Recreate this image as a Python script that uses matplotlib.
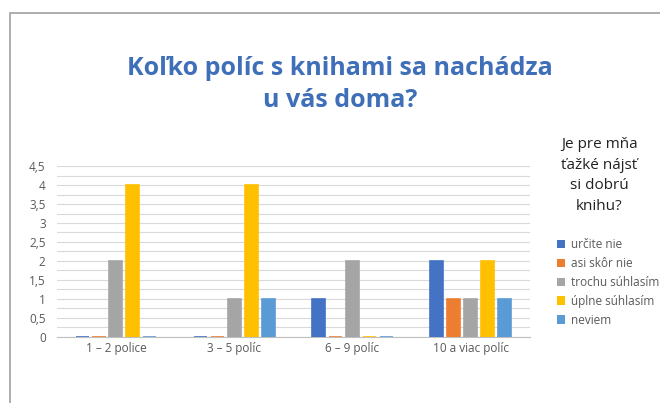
import numpy as np
import matplotlib.pyplot as plt
from matplotlib.patches import Rectangle, Patch
from matplotlib.ticker import MultipleLocator

categories = ['1 – 2 police', '3 – 5 políc', '6 – 9 políc', '10 a viac políc']
series_names = ['určite nie', 'asi skôr nie', 'trochu súhlasím', 'úplne súhlasím', 'neviem']
urcite_nie = [0, 0, 1, 2]
asi_skor_nie = [0, 0, 0, 1]
trochu_suhlasim = [2, 1, 2, 1]
uplne_suhlasim = [4, 4, 0, 2]
neviem = [0, 1, 0, 1]
values = [urcite_nie, asi_skor_nie, trochu_suhlasim, uplne_suhlasim, neviem]
colors = ['#4472C4', '#ED7D31', '#A5A5A5', '#FFC000', '#5B9BD5']

plt.rcParams['font.family'] = ['Open Sans', 'DejaVu Sans']

fig = plt.figure(figsize=(6.6, 4.03), dpi=100)
ax = fig.add_axes([0.086, 0.164, 0.717, 0.424])

x = np.arange(len(categories))
width = 0.11
step = 0.143
for k, (name, vals, col) in enumerate(zip(series_names, values, colors)):
    ax.bar(x + (k - 2) * step, vals, width, color=col, edgecolor=col,
           linewidth=1.2, label=name, zorder=3)

ax.set_xlim(-0.5, len(categories) - 0.5)
ax.set_ylim(0, 4.5)
ax.yaxis.set_major_locator(MultipleLocator(0.5))
ax.yaxis.set_minor_locator(MultipleLocator(0.25))
ax.set_yticklabels([f'{v:g}'.replace('.', ',') for v in ax.get_yticks()])
ax.set_xticks(x)
ax.set_xticklabels(categories)
ax.grid(axis='y', which='both', color='#D9D9D9', linewidth=0.8, zorder=0)
for s in ['top', 'right', 'left']:
    ax.spines[s].set_visible(False)
ax.spines['bottom'].set_color('#BFBFBF')
ax.tick_params(axis='both', which='both', length=0, colors='#595959', labelsize=8.5)
ax.tick_params(axis='y', pad=8)

fig.text(0.515, 0.79, 'Koľko políc s knihami sa nachádza\nu vás doma?',
         ha='center', va='center', fontsize=18, fontweight='bold',
         color='#3F6FB8', linespacing=1.4)

fig.text(0.908, 0.66, 'Je pre mňa\nťažké nájsť\nsi dobrú\nknihu?', ha='center',
         va='top', fontsize=11, color='#222222', linespacing=1.5)

handles = [Patch(facecolor=c) for c in colors]
fig.legend(handles, series_names, loc='upper left', bbox_to_anchor=(0.835, 0.424),
           frameon=False, fontsize=8.5, labelcolor='#595959', handlelength=0.7,
           handleheight=0.7, handletextpad=0.5, labelspacing=0.5, borderpad=0)

fig.add_artist(Rectangle((0.015, -0.1), 1.1, 1.068, transform=fig.transFigure,
                         fill=False, edgecolor='#A0A0A0', linewidth=1.2))

fig.savefig('out.png', dpi=100)
